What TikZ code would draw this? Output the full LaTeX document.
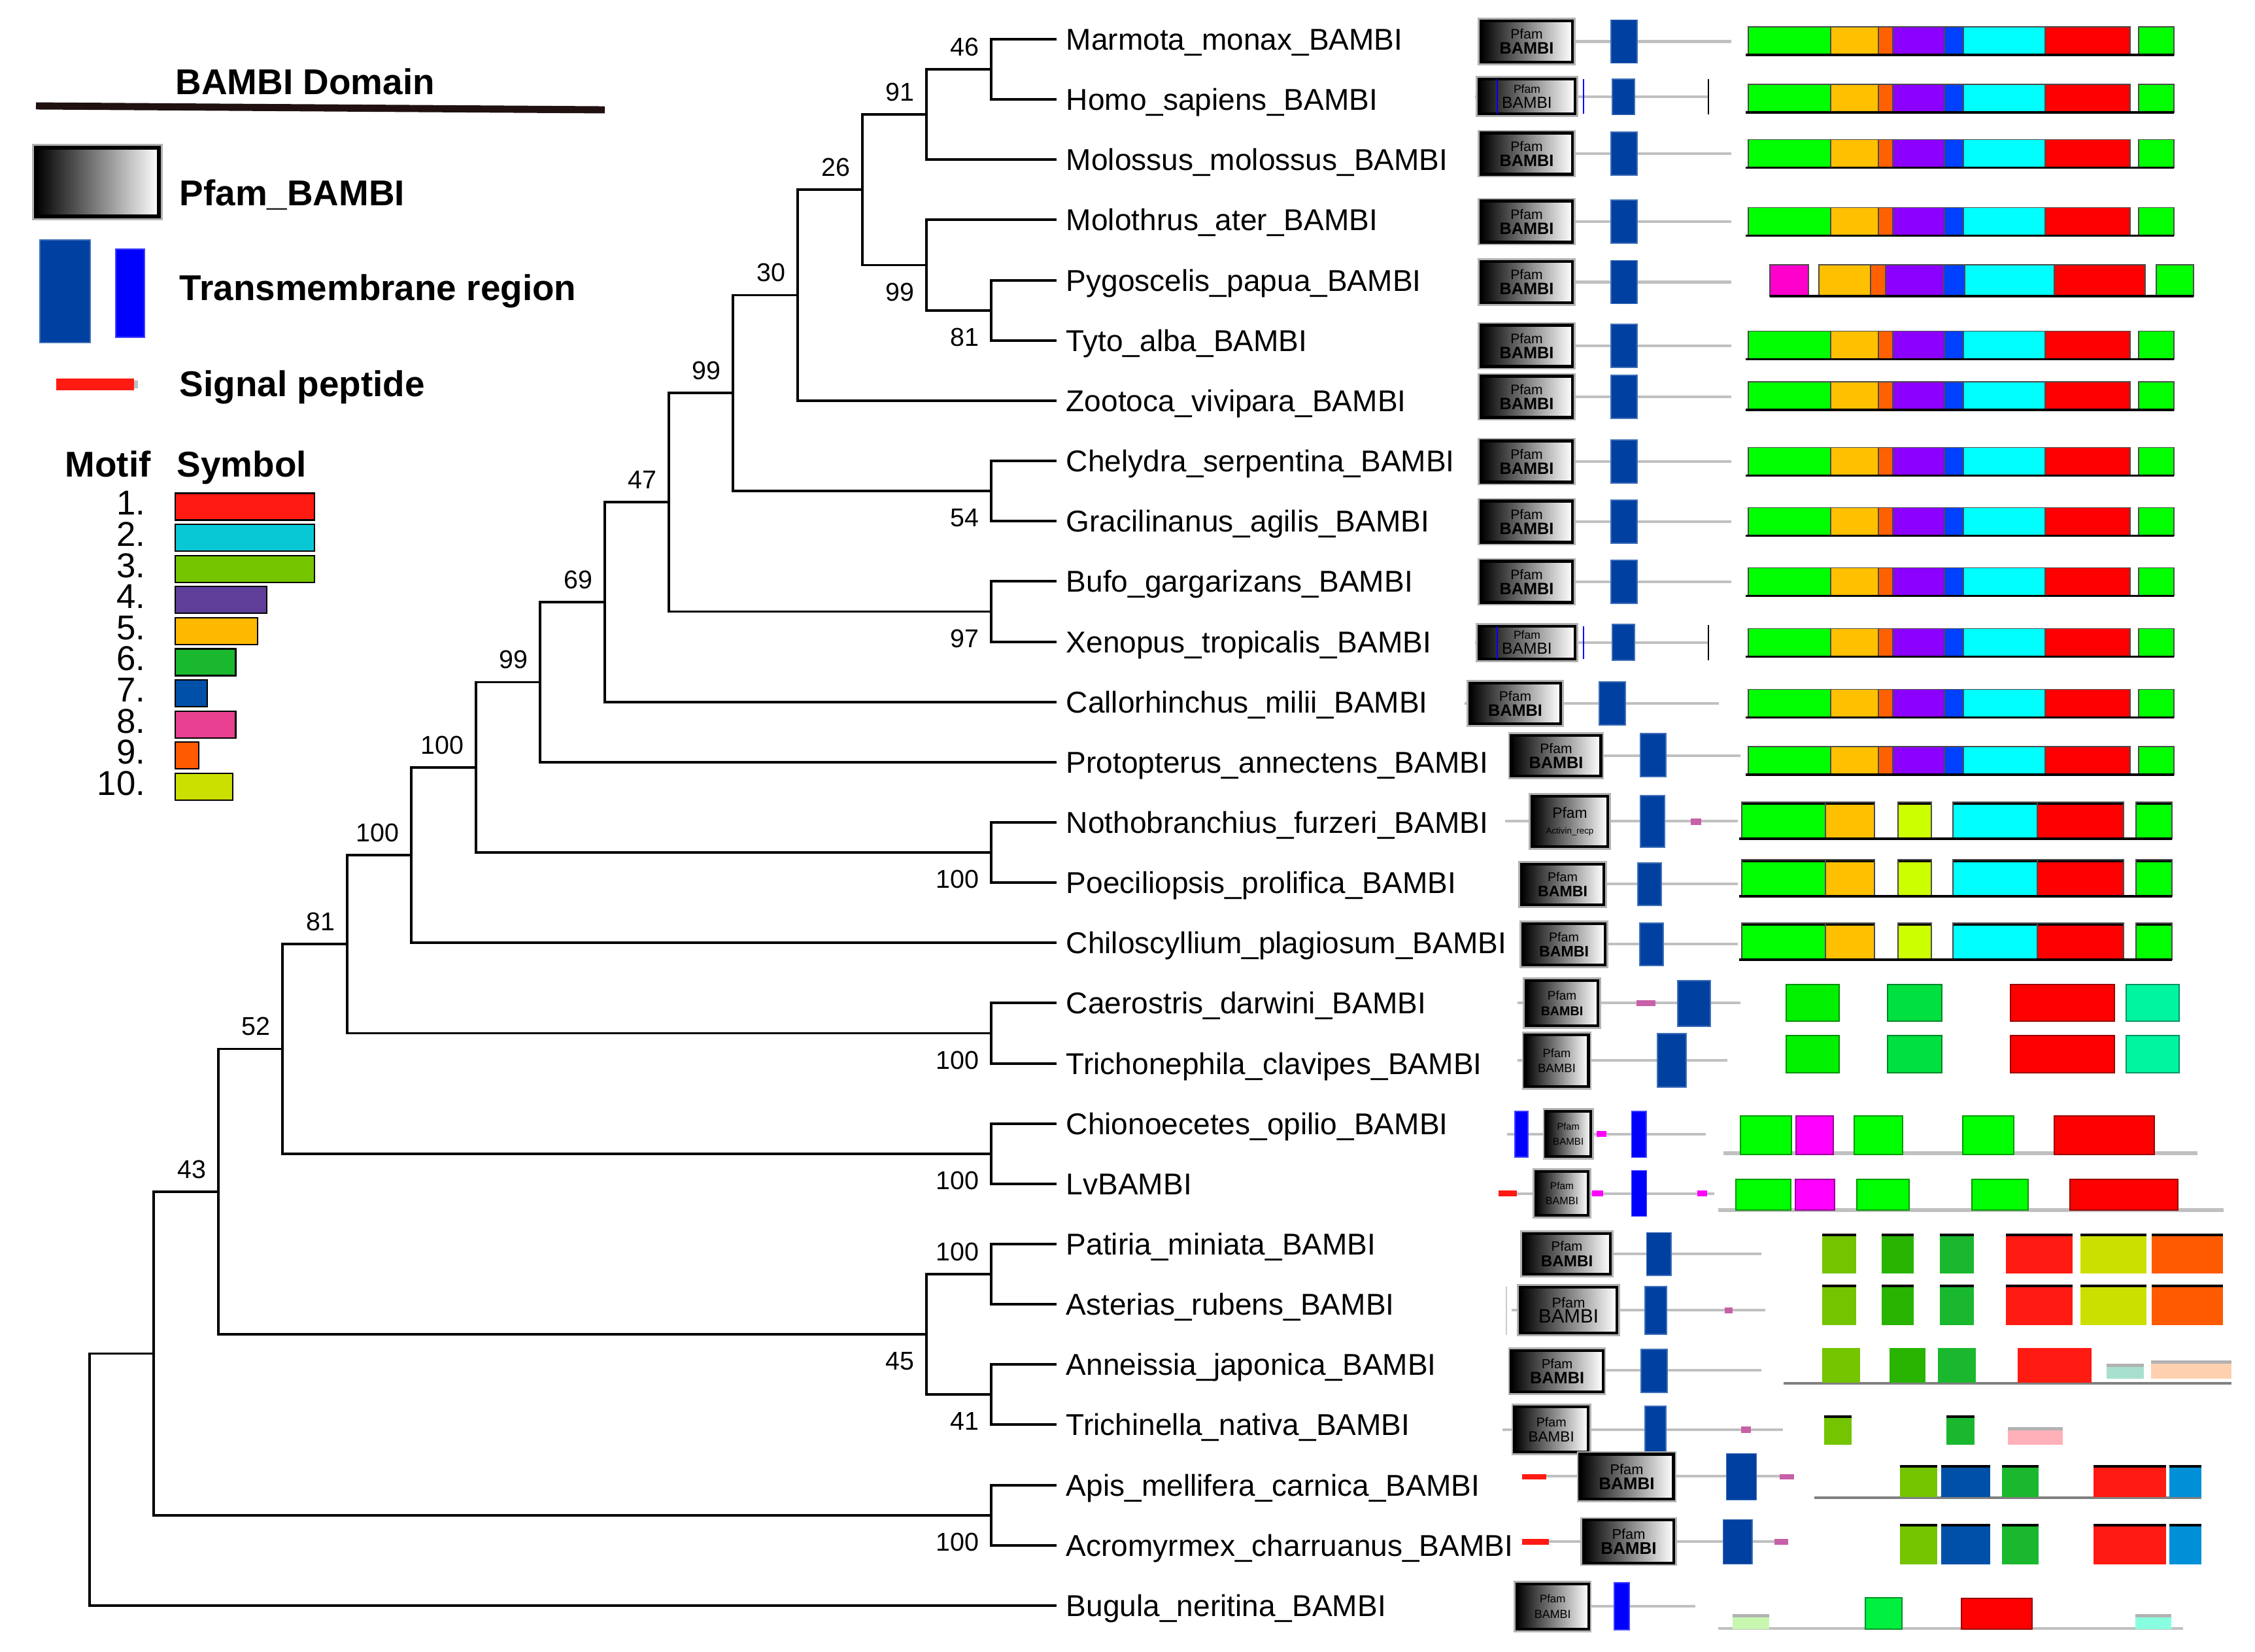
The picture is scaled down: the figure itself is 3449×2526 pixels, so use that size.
\documentclass[tikz,border=0pt]{standalone}
\usepackage{fontspec}
\setmainfont{Liberation Sans}
\usetikzlibrary{positioning}

\definecolor{tmblue}{HTML}{0040A0}
\definecolor{tmbright}{HTML}{0000FF}
\definecolor{sigred}{HTML}{FF1A12}
\definecolor{lowpink}{HTML}{C860A8}
\definecolor{magent}{HTML}{FF00FF}
\definecolor{rulec}{HTML}{201010}
\definecolor{bbgray}{HTML}{C0C0C0}
\definecolor{vgreen}{HTML}{00FF00}
\definecolor{vorange}{HTML}{FFC000}
\definecolor{vdkor}{HTML}{FF6000}
\definecolor{vpurple}{HTML}{8C00FF}
\definecolor{vblue}{HTML}{0040FF}
\definecolor{vcyan}{HTML}{00FFFF}
\definecolor{vred}{HTML}{FF0000}
\definecolor{vpink}{HTML}{FF00CC}
\definecolor{ygreen}{HTML}{CCFF00}
\definecolor{sgreen}{HTML}{00F000}
\definecolor{sgreenb}{HTML}{00E040}
\definecolor{steal}{HTML}{00F5A0}
\definecolor{bgreen}{HTML}{00F040}
\definecolor{gdark}{HTML}{28B400}
\definecolor{paleteal}{HTML}{A8E0D0}
\definecolor{peach}{HTML}{FFD0B0}
\definecolor{palepink}{HTML}{FFB0B8}
\definecolor{skyb}{HTML}{0090D8}
\definecolor{palegreen}{HTML}{C8F8B0}
\definecolor{aqua}{HTML}{88FFE0}
\definecolor{mot1}{HTML}{FF1A12}
\definecolor{mot2}{HTML}{08C8D6}
\definecolor{mot3}{HTML}{74C400}
\definecolor{mot4}{HTML}{5F3F9A}
\definecolor{mot5}{HTML}{FFB800}
\definecolor{mot6}{HTML}{1AB82E}
\definecolor{mot7}{HTML}{0050A8}
\definecolor{mot8}{HTML}{E84090}
\definecolor{mot9}{HTML}{FF5A00}
\definecolor{mot10}{HTML}{CCE000}

\newcommand{\pfamlbl}[2]{{\fontsize{#1}{#1}\selectfont Pfam}\\{\fontsize{#2}{#2}\selectfont\bfseries BAMBI}}
\newcommand{\pfamthin}[2]{{\fontsize{#1}{#1}\selectfont Pfam}\\{\fontsize{#2}{#2}\selectfont BAMBI}}

\tikzset{
  branch/.style={line width=1.05pt},
  leaf/.style={anchor=west, inner xsep=4pt, inner ysep=0pt, text height=9.4pt, text depth=0pt, font=\fontsize{13.1}{15}\selectfont},
  boot/.style={inner sep=0pt, text height=8pt, text depth=0pt, font=\fontsize{11.2}{13}\selectfont},
  legtext/.style={anchor=west, inner sep=0pt, text height=11.2pt, text depth=0pt, font=\fontsize{15.6}{18}\selectfont\bfseries},
  mnum/.style={anchor=east, inner sep=0pt, text height=10.7pt, text depth=0pt, font=\fontsize{15}{18}\selectfont},
  mbar/.style={draw=black, line width=0.6pt},
  pfam/.style={draw=black, line width=1.2pt, left color=black, right color=white, inner sep=0pt, align=center, font=\fontsize{7}{6.6}\selectfont, preaction={draw=black!30, line width=2.6pt}},
  tm/.style={fill=tmblue, draw=tmblue!75!white, line width=0.4pt},
  tmb/.style={fill=tmbright, draw=tmbright!75!white, line width=0.4pt},
  bb/.style={draw=bbgray, line width=1.15pt},
  blk/.style={fill=#1, draw=black!70, line width=0.4pt},
  sblk/.style={fill=#1, draw=#1!60!black, line width=0.5pt},
  fblk/.style={fill=#1},
  tb/.style={path picture={\fill[black] (path picture bounding box.north west) rectangle ([yshift=-1.2pt]path picture bounding box.north east);}},
  gtb/.style={path picture={\fill[black!30] (path picture bounding box.north west) rectangle ([yshift=-1.5pt]path picture bounding box.north east);}},
}

\begin{document}
\begin{tikzpicture}[x=0.01cm, y=-0.01cm]
	\fill[white] (0,0) rectangle (3449,2526);
	\useasboundingbox (0,0) rectangle (3449,2526);

	% legend
	\node[legtext] (tdom) at (268,124.5) {BAMBI Domain};
	\draw[rulec, line width=3.1pt] (55,162) -- (925,168);
	\draw[left color=black, right color=white, line width=1.7pt, preaction={draw=black!30, line width=3.4pt}] (55,226) rectangle (243,331);
	\node[legtext] (tpf) at (274,295) {Pfam\_BAMBI};
	\draw[tm] (61,367) rectangle (138,524);
	\draw[tmb] (177,381) rectangle (221,516);
	\node[legtext] (ttm) at (274,440) {Transmembrane region};
	\fill[sigred] (86,579) rectangle (205,597);
	\fill[black!25] (205,582) rectangle (211,594);
	\node[legtext] (tsp) at (274,587) {Signal peptide};

	\node[legtext] (tmotif) at (99,710) {Motif};
	\node[legtext] (tsym) at (270,710) {Symbol};
	\node[mnum] (m1) at (223,769) {1.};
	\node[mnum] (m2) at (223,816.6) {2.};
	\node[mnum] (m3) at (223,864.2) {3.};
	\node[mnum] (m4) at (223,911.8) {4.};
	\node[mnum] (m5) at (223,959.4) {5.};
	\node[mnum] (m6) at (223,1007) {6.};
	\node[mnum] (m7) at (223,1054.6) {7.};
	\node[mnum] (m8) at (223,1102.2) {8.};
	\node[mnum] (m9) at (223,1149.8) {9.};
	\node[mnum] (m10) at (223,1197.4) {10.};
	\draw[mbar, fill=mot1] (268,754.5) rectangle (481,795.5);
	\draw[mbar, fill=mot2] (268,802.1) rectangle (481,843.1);
	\draw[mbar, fill=mot3] (268,849.7) rectangle (481,890.7);
	\draw[mbar, fill=mot4] (268,897.3) rectangle (407.6,938.3);
	\draw[mbar, fill=mot5] (268,944.9) rectangle (394,985.9);
	\draw[mbar, fill=mot6] (268,992.5) rectangle (360.5,1033.5);
	\draw[mbar, fill=mot7] (268,1040.1) rectangle (317,1081.1);
	\draw[mbar, fill=mot8] (268,1087.7) rectangle (360.5,1128.7);
	\draw[mbar, fill=mot9] (268,1135.3) rectangle (304,1176.3);
	\draw[mbar, fill=mot10] (268,1182.9) rectangle (356,1223.9);

	% tree: leaves
	\node[leaf] (marmota) at (1616,60) {Marmota\_monax\_BAMBI};
	\node[leaf] (homo) at (1616,152) {Homo\_sapiens\_BAMBI};
	\node[leaf] (molossus) at (1616,244) {Molossus\_molossus\_BAMBI};
	\node[leaf] (molothrus) at (1616,336) {Molothrus\_ater\_BAMBI};
	\node[leaf] (pygoscelis) at (1616,429) {Pygoscelis\_papua\_BAMBI};
	\node[leaf] (tyto) at (1616,521) {Tyto\_alba\_BAMBI};
	\node[leaf] (zootoca) at (1616,613) {Zootoca\_vivipara\_BAMBI};
	\node[leaf] (chelydra) at (1616,705) {Chelydra\_serpentina\_BAMBI};
	\node[leaf] (gracilinanus) at (1616,797) {Gracilinanus\_agilis\_BAMBI};
	\node[leaf] (bufo) at (1616,889) {Bufo\_gargarizans\_BAMBI};
	\node[leaf] (xenopus) at (1616,982) {Xenopus\_tropicalis\_BAMBI};
	\node[leaf] (callorhinchus) at (1616,1074) {Callorhinchus\_milii\_BAMBI};
	\node[leaf] (protopterus) at (1616,1166) {Protopterus\_annectens\_BAMBI};
	\node[leaf] (notho) at (1616,1258) {Nothobranchius\_furzeri\_BAMBI};
	\node[leaf] (poecil) at (1616,1350) {Poeciliopsis\_prolifica\_BAMBI};
	\node[leaf] (chilo) at (1616,1442) {Chiloscyllium\_plagiosum\_BAMBI};
	\node[leaf] (caero) at (1616,1534) {Caerostris\_darwini\_BAMBI};
	\node[leaf] (tricho) at (1616,1627) {Trichonephila\_clavipes\_BAMBI};
	\node[leaf] (chiono) at (1616,1719) {Chionoecetes\_opilio\_BAMBI};
	\node[leaf] (lv) at (1616,1811) {LvBAMBI};
	\node[leaf] (patiria) at (1616,1903) {Patiria\_miniata\_BAMBI};
	\node[leaf] (asterias) at (1616,1995) {Asterias\_rubens\_BAMBI};
	\node[leaf] (anneissia) at (1616,2087) {Anneissia\_japonica\_BAMBI};
	\node[leaf] (trichinella) at (1616,2179) {Trichinella\_nativa\_BAMBI};
	\node[leaf] (apis) at (1616,2272) {Apis\_mellifera\_carnica\_BAMBI};
	\node[leaf] (acro) at (1616,2364) {Acromyrmex\_charruanus\_BAMBI};
	\node[leaf] (bugula) at (1616,2456) {Bugula\_neritina\_BAMBI};

	% tree: internal nodes
	\coordinate (n46) at (1516,106);
	\coordinate (n91) at (1417,175);
	\coordinate (n81b) at (1516,475);
	\coordinate (n99c) at (1417,405.5);
	\coordinate (n26) at (1319,290);
	\coordinate (n30) at (1220,451.5);
	\coordinate (n54) at (1516,751);
	\coordinate (n99b) at (1121,601);
	\coordinate (n97) at (1516,935.5);
	\coordinate (n47) at (1023,768);
	\coordinate (n69) at (925,921);
	\coordinate (n99a) at (826,1043.5);
	\coordinate (nNP) at (1516,1304);
	\coordinate (n100b) at (728,1174);
	\coordinate (n100a) at (629,1308);
	\coordinate (nCT) at (1516,1580.5);
	\coordinate (n81) at (531,1444);
	\coordinate (nCL) at (1516,1765);
	\coordinate (n52) at (432,1604.5);
	\coordinate (nPA) at (1516,1949);
	\coordinate (nAT) at (1516,2133);
	\coordinate (n45) at (1417,2041);
	\coordinate (n43) at (334,1823);
	\coordinate (nAA) at (1516,2318);
	\coordinate (nU) at (235,2070.5);
	\coordinate (root) at (137,2263);

	\draw[branch] (n46) |- (marmota.west) (n46) |- (homo.west);
	\draw[branch] (n91) |- (n46) (n91) |- (molossus.west);
	\draw[branch] (n81b) |- (pygoscelis.west) (n81b) |- (tyto.west);
	\draw[branch] (n99c) |- (molothrus.west) (n99c) |- (n81b);
	\draw[branch] (n26) |- (n91) (n26) |- (n99c);
	\draw[branch] (n30) |- (n26) (n30) |- (zootoca.west);
	\draw[branch] (n54) |- (chelydra.west) (n54) |- (gracilinanus.west);
	\draw[branch] (n99b) |- (n30) (n99b) |- (n54);
	\draw[branch] (n97) |- (bufo.west) (n97) |- (xenopus.west);
	\draw[branch] (n47) |- (n99b) (n47) |- (n97);
	\draw[branch] (n69) |- (n47) (n69) |- (callorhinchus.west);
	\draw[branch] (n99a) |- (n69) (n99a) |- (protopterus.west);
	\draw[branch] (nNP) |- (notho.west) (nNP) |- (poecil.west);
	\draw[branch] (n100b) |- (n99a) (n100b) |- (nNP);
	\draw[branch] (n100a) |- (n100b) (n100a) |- (chilo.west);
	\draw[branch] (nCT) |- (caero.west) (nCT) |- (tricho.west);
	\draw[branch] (n81) |- (n100a) (n81) |- (nCT);
	\draw[branch] (nCL) |- (chiono.west) (nCL) |- (lv.west);
	\draw[branch] (n52) |- (n81) (n52) |- (nCL);
	\draw[branch] (nPA) |- (patiria.west) (nPA) |- (asterias.west);
	\draw[branch] (nAT) |- (anneissia.west) (nAT) |- (trichinella.west);
	\draw[branch] (n45) |- (nPA) (n45) |- (nAT);
	\draw[branch] (n43) |- (n52) (n43) |- (n45);
	\draw[branch] (nAA) |- (apis.west) (nAA) |- (acro.west);
	\draw[branch] (nU) |- (n43) (nU) |- (nAA);
	\draw[branch] (root) |- (nU) (root) |- (bugula.west);

	% bootstrap values
	\node[boot, above left=0.2cm and 0.18cm of n46] (b46) {46};
	\node[boot, above left=0.2cm and 0.18cm of n91] (b91) {91};
	\node[boot, above left=0.2cm and 0.18cm of n26] (b26) {26};
	\node[boot, below left=0.26cm and 0.18cm of n99c] (b99c) {99};
	\node[boot, below left=0.26cm and 0.18cm of n81b] (b81b) {81};
	\node[boot, above left=0.2cm and 0.18cm of n30] (b30) {30};
	\node[boot, above left=0.2cm and 0.18cm of n99b] (b99b) {99};
	\node[boot, above left=0.2cm and 0.18cm of n47] (b47) {47};
	\node[boot, below left=0.26cm and 0.18cm of n54] (b54) {54};
	\node[boot, below left=0.26cm and 0.18cm of n97] (b97) {97};
	\node[boot, above left=0.2cm and 0.18cm of n69] (b69) {69};
	\node[boot, above left=0.2cm and 0.18cm of n99a] (b99a) {99};
	\node[boot, above left=0.2cm and 0.18cm of n100b] (b100b) {100};
	\node[boot, above left=0.2cm and 0.18cm of n100a] (b100a) {100};
	\node[boot, above left=0.2cm and 0.18cm of n81] (b81) {81};
	\node[boot, above left=0.2cm and 0.18cm of n52] (b52) {52};
	\node[boot, above left=0.2cm and 0.18cm of n43] (b43) {43};
	\node[boot, below left=0.26cm and 0.18cm of nNP] (bNP) {100};
	\node[boot, below left=0.26cm and 0.18cm of nCT] (bCT) {100};
	\node[boot, below left=0.26cm and 0.18cm of nCL] (bCL) {100};
	\node[boot, above left=0.2cm and 0.18cm of nPA] (bPA) {100};
	\node[boot, below left=0.26cm and 0.18cm of n45] (b45) {45};
	\node[boot, below left=0.26cm and 0.18cm of nAT] (bAT) {41};
	\node[boot, below left=0.26cm and 0.18cm of nAA] (bAA) {100};

	% domains: vertebrate rows
	\foreach \i/\y in {1/63.5,3/235,4/339,5/431.5,6/529,7/607,8/706,9/798,10/890}{
		\draw[bb] (2405,\y) -- (2648,\y);
		\node[pfam, minimum width=1.40cm, minimum height=0.63cm] (pf\i) at (2335,\y) {\pfamlbl{6}{7.2}};
		\draw[tm] (2464,\y-33) rectangle (2504,\y+33);
	}
	\draw[bb] (2256,148) -- (2613,148);
	\node[pfam, minimum width=1.47cm, minimum height=0.53cm] (pf2) at (2335.5,147.5) {\pfamthin{5}{7}};
	\draw[tmbright, line width=0.5pt] (2290,121) -- (2290,174) (2422,121) -- (2422,174);
	\draw[line width=0.6pt] (2613,121) -- (2613,175);
	\draw[tm] (2466,121) rectangle (2500,175.5);
	\draw[bb] (2256,983) -- (2613,983);
	\node[pfam, minimum width=1.47cm, minimum height=0.50cm] (pf11) at (2335.5,983) {\pfamthin{5}{7}};
	\draw[tmbright, line width=0.5pt] (2290,958) -- (2290,1008) (2422,958) -- (2422,1008);
	\draw[line width=0.6pt] (2613,956) -- (2613,1010);
	\draw[tm] (2466,955) rectangle (2500,1010);
	\draw[bb] (2240,1076) -- (2629,1076);
	\node[pfam, minimum width=1.39cm, minimum height=0.62cm] (pf12) at (2317.5,1076) {\pfamlbl{6}{7.2}};
	\draw[tm] (2446,1043) rectangle (2486,1109);
	\draw[bb] (2449,1156) -- (2662,1156);
	\node[pfam, minimum width=1.37cm, minimum height=0.62cm] (pf13) at (2380,1156) {\pfamlbl{6}{7.2}};
	\draw[tm] (2509,1122) rectangle (2548,1188);

	\foreach \y in {62.5,150.5,235,339,528,605.5,706,798,890,983,1076,1163.5}{
		\begin{scope}[shift={(0,\y)}]
			\path[blk=vgreen] (2674,-21.5) rectangle (2800,21.5);
			\path[blk=vorange] (2800,-21.5) rectangle (2873,21.5);
			\path[blk=vdkor] (2873,-21.5) rectangle (2895,21.5);
			\path[blk=vpurple] (2895,-21.5) rectangle (2974,21.5);
			\path[blk=vblue] (2974,-21.5) rectangle (3003,21.5);
			\path[blk=vcyan] (3003,-21.5) rectangle (3128,21.5);
			\path[blk=vred] (3128,-21.5) rectangle (3258,21.5);
			\path[blk=vgreen] (3271,-21.5) rectangle (3325,21.5);
			\draw[line width=1pt] (2670,21.5) -- (3325,21.5);
		\end{scope}
	}
	\begin{scope}[shift={(0,429)}]
		\path[blk=vpink] (2707,-24) rectangle (2766,24);
		\path[blk=vorange] (2782,-24) rectangle (2861,24);
		\path[blk=vdkor] (2861,-24) rectangle (2884,24);
		\path[blk=vpurple] (2884,-24) rectangle (2973,24);
		\path[blk=vblue] (2973,-24) rectangle (3005,24);
		\path[blk=vcyan] (3005,-24) rectangle (3142,24);
		\path[blk=vred] (3142,-24) rectangle (3281,24);
		\path[blk=vgreen] (3298,-24) rectangle (3355,24);
		\draw[line width=1pt] (2707,24) -- (3355,24);
	\end{scope}

	% domains: fish rows
	\draw[bb] (2302,1256) -- (2658,1256);
	\node[pfam, minimum width=1.16cm, minimum height=0.77cm] (pf14) at (2401,1256.5) {{\fontsize{6.5}{6.5}\selectfont Pfam}\\{\fontsize{3.8}{4}\selectfont Activin\_recp}};
	\draw[tm] (2509,1217) rectangle (2546,1296);
	\fill[lowpink] (2585.5,1252) rectangle (2601.5,1261.6);
	\draw[bb] (2453,1352) -- (2658,1352);
	\node[pfam, minimum width=1.26cm, minimum height=0.62cm] (pf15) at (2390,1353) {\pfamlbl{5.6}{6.6}};
	\draw[tm] (2505,1320) rectangle (2541,1385);
	\draw[bb] (2455,1444) -- (2658,1444);
	\node[pfam, minimum width=1.26cm, minimum height=0.63cm] (pf16) at (2392,1444.5) {\pfamlbl{5.6}{6.6}};
	\draw[tm] (2508,1412) rectangle (2544,1477);
	\foreach \y in {1255,1343,1440}{
		\begin{scope}[shift={(0,\y)}]
			\path[blk=vgreen, tb] (2664,-28) rectangle (2792,28);
			\path[blk=vorange, tb] (2792,-28) rectangle (2867,28);
			\path[blk=ygreen, tb] (2903,-28) rectangle (2954,28);
			\path[blk=vcyan, tb] (2987,-28) rectangle (3116,28);
			\path[blk=vred, tb] (3116,-28) rectangle (3248,28);
			\path[blk=vgreen, tb] (3267,-28) rectangle (3322,28);
			\draw[line width=1.1pt] (2660,28) -- (3322,28);
		\end{scope}
	}

	% domains: spiders
	\draw[bb] (2321,1534) -- (2662,1534);
	\node[pfam, minimum width=1.10cm, minimum height=0.69cm] (pf17) at (2389,1534.5) {\pfamlbl{5.4}{5.6}};
	\fill[lowpink] (2502.7,1530) rectangle (2532,1539);
	\draw[tm] (2566,1500) rectangle (2616,1570);
	\draw[bb] (2321,1622) -- (2642,1622);
	\node[pfam, minimum width=0.97cm, minimum height=0.79cm] (pf18) at (2381,1622.5) {\pfamthin{5.2}{5.3}};
	\draw[tm] (2535,1581) rectangle (2579,1663);
	\path[sblk=sgreen] (2732,1506) rectangle (2813,1562);
	\path[sblk=sgreenb] (2887,1506) rectangle (2970,1562);
	\path[sblk=vred] (3075,1506) rectangle (3234,1562);
	\path[sblk=steal] (3252,1506) rectangle (3333,1562);
	\path[sblk=sgreen] (2732,1584) rectangle (2813,1641);
	\path[sblk=sgreenb] (2887,1584) rectangle (2970,1641);
	\path[sblk=vred] (3075,1584) rectangle (3234,1641);
	\path[sblk=steal] (3252,1584) rectangle (3333,1641);

	% domains: crustaceans
	\draw[bb] (2305,1735) -- (2608.6,1735);
	\draw[tmb] (2317,1700) rectangle (2337,1770);
	\node[pfam, minimum width=0.69cm, minimum height=0.69cm] (pf19) at (2398.7,1734.5) {\pfamthin{4.2}{4.3}};
	\fill[magent] (2442,1730) rectangle (2456.5,1739);
	\draw[tmb] (2495.5,1700) rectangle (2518,1770.5);
	\draw[bb] (2319.5,1825.5) -- (2622,1825.5);
	\fill[sigred] (2291.6,1821) rectangle (2319.5,1830);
	\node[pfam, minimum width=0.80cm, minimum height=0.67cm] (pf20) at (2389,1825.5) {\pfamthin{4.4}{4.6}};
	\fill[magent] (2435,1821) rectangle (2451.7,1830);
	\draw[tmb] (2495.5,1790.6) rectangle (2518.6,1860.6);
	\fill[magent] (2596,1821) rectangle (2611,1830);
	\draw[bb, line width=1.5pt] (2636,1764) -- (3361,1764);
	\path[sblk=vgreen] (2662,1707) rectangle (2740,1766);
	\path[sblk=magent] (2747,1707) rectangle (2804,1766);
	\path[sblk=vgreen] (2836,1707) rectangle (2910,1766);
	\path[sblk=vgreen] (3002,1707) rectangle (3080,1766);
	\path[sblk=vred] (3142,1707) rectangle (3295,1766);
	\draw[bb, line width=1.5pt] (2628,1851) -- (3401,1851);
	\path[sblk=vgreen] (2655,1804) rectangle (2739,1851);
	\path[sblk=magent] (2746,1804) rectangle (2806,1851);
	\path[sblk=vgreen] (2840,1804) rectangle (2920,1851);
	\path[sblk=vgreen] (3016,1804) rectangle (3102,1851);
	\path[sblk=vred] (3166,1804) rectangle (3331,1851);

	% domains: echinoderms and nematode
	\draw[bb] (2463,1918) -- (2694,1918);
	\node[pfam, minimum width=1.33cm, minimum height=0.625cm] (pf21) at (2396.5,1918) {\pfamlbl{5.8}{6.9}};
	\draw[tm] (2518.6,1885.6) rectangle (2556,1951);
	\draw[black!20, line width=0.5pt] (2303.6,1968) -- (2303.6,2042);
	\draw[bb] (2311.5,2003.7) -- (2700,2003.7);
	\node[pfam, minimum width=1.48cm, minimum height=0.70cm] (pf22) at (2399,2004) {\pfamthin{6.2}{8.4}};
	\draw[tm] (2516,1968) rectangle (2549,2041);
	\fill[lowpink] (2638,1999.5) rectangle (2650,2008.8);
	\foreach \y/\h in {1887/1948,1965/2027}{
		\path[fblk=mot3, tb] (2787,\y) rectangle (2839,\h);
		\path[fblk=gdark, tb] (2878,\y) rectangle (2927,\h);
		\path[fblk=mot6, tb] (2967,\y) rectangle (3019,\h);
		\path[fblk=mot1, tb] (3068,\y) rectangle (3170,\h);
		\path[fblk=mot10, tb] (3182,\y) rectangle (3283,\h);
		\path[fblk=mot9, tb] (3291,\y) rectangle (3400,\h);
	}
	\draw[bb] (2451.7,2096) -- (2694,2096);
	\node[pfam, minimum width=1.40cm, minimum height=0.63cm] (pf23) at (2381.6,2097.4) {\pfamlbl{5.8}{7.2}};
	\draw[tm] (2510,2064) rectangle (2550,2130);
	\draw[black!50, line width=1.2pt] (2728,2116) -- (3413,2116);
	\path[fblk=mot3] (2787,2062) rectangle (2845,2115);
	\path[fblk=gdark] (2890,2062) rectangle (2945,2115);
	\path[fblk=mot6] (2964,2062) rectangle (3022,2115);
	\path[fblk=mot1] (3086,2062) rectangle (3199,2115);
	\path[fblk=paleteal, gtb] (3222,2086) rectangle (3279,2109);
	\path[fblk=peach, gtb] (3290,2081) rectangle (3413,2109);
	\draw[bb] (2298,2186.6) -- (2727,2186.6);
	\node[pfam, minimum width=1.13cm, minimum height=0.69cm] (pf24) at (2372.7,2186.5) {\pfamthin{5.6}{6.4}};
	\draw[tm] (2516,2151) rectangle (2548,2221);
	\fill[lowpink] (2663,2182) rectangle (2678,2191.7);
	\path[fblk=mot3, tb] (2790,2165) rectangle (2832,2210);
	\path[fblk=mot6, tb] (2977,2165) rectangle (3020,2210);
	\path[fblk=palepink, gtb] (3071,2183) rectangle (3155,2210);

	% domains: insects
	\draw[bb] (2365,2258) -- (2744,2258);
	\fill[sigred] (2327.5,2254.6) rectangle (2365,2263);
	\node[pfam, minimum width=1.43cm, minimum height=0.685cm] (pf25) at (2488,2258.7) {\pfamlbl{6.2}{7.4}};
	\draw[tm] (2640.5,2223.6) rectangle (2686.7,2294.4);
	\fill[lowpink] (2721.7,2254.6) rectangle (2744,2263);
	\draw[bb] (2369,2358) -- (2735,2358);
	\fill[sigred] (2327.5,2353.7) rectangle (2369,2362.5);
	\node[pfam, minimum width=1.38cm, minimum height=0.655cm] (pf26) at (2491,2358) {\pfamlbl{6.2}{7.4}};
	\draw[tm] (2635.7,2324.5) rectangle (2680,2392.6);
	\fill[lowpink] (2713.8,2353.7) rectangle (2735,2362.5);
	\draw[black!50, line width=1.2pt] (2775,2291) -- (3367,2291);
	\foreach \y/\h in {2241/2290,2331/2393}{
		\path[fblk=mot3, tb] (2906,\y) rectangle (2963,\h);
		\path[fblk=mot7, tb] (2969,\y) rectangle (3044,\h);
		\path[fblk=mot6, tb] (3062,\y) rectangle (3118,\h);
		\path[fblk=mot1, tb] (3202,\y) rectangle (3313,\h);
		\path[fblk=skyb, tb] (3318,\y) rectangle (3367,\h);
	}

	% domains: bryozoan
	\draw[bb] (2319.5,2457) -- (2592.7,2457);
	\node[pfam, minimum width=1.10cm, minimum height=0.69cm] (pf27) at (2374.7,2457.4) {\pfamthin{4.8}{5.1}};
	\draw[tmb] (2469,2421) rectangle (2492,2493);
	\draw[bb] (2628,2491) -- (3339,2491);
	\path[fblk=palegreen, gtb] (2650,2469) rectangle (2706,2492);
	\path[sblk=bgreen] (2853,2444) rectangle (2909,2492);
	\path[sblk=vred] (3000,2445) rectangle (3108,2492);
	\path[fblk=aqua, gtb] (3266,2469) rectangle (3321,2492);
\end{tikzpicture}
\end{document}
